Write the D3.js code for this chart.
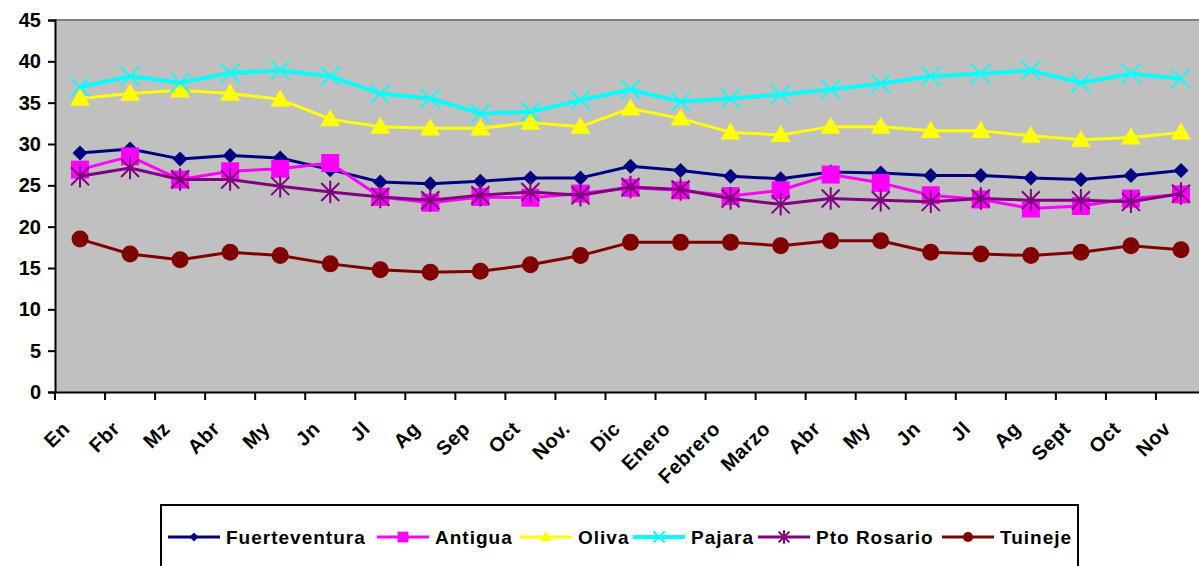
<!DOCTYPE html>
<html><head><meta charset="utf-8">
<script src="https://cdn.jsdelivr.net/npm/d3@7"></script>
<style>
body{margin:0;background:#fff;overflow:hidden}
text{font-family:"Liberation Sans",Arial,sans-serif;font-weight:bold;fill:#000}
</style></head><body>
<svg id="c" width="1199" height="566"></svg>
<script>
const categories = ["En","Fbr","Mz","Abr","My","Jn","Jl","Ag","Sep","Oct","Nov.","Dic","Enero","Febrero","Marzo","Abr","My","Jn","Jl","Ag","Sept","Oct","Nov"];
const fuerteventura = [28.9,29.4,28.2,28.6,28.3,26.9,25.4,25.2,25.5,25.9,25.9,27.3,26.8,26.1,25.8,26.6,26.5,26.2,26.2,25.9,25.7,26.2,26.8];
const antigua = [26.9,28.5,25.7,26.7,27.0,27.7,23.6,22.9,23.6,23.5,24.0,24.7,24.4,23.7,24.4,26.3,25.3,23.8,23.3,22.2,22.5,23.4,23.9];
const oliva = [35.5,36.1,36.5,36.1,35.4,33.0,32.1,31.9,31.9,32.6,32.1,34.3,33.1,31.4,31.1,32.1,32.1,31.6,31.6,31.0,30.5,30.8,31.4];
const pajara = [36.9,38.2,37.4,38.6,38.9,38.2,36.1,35.5,33.7,33.9,35.3,36.6,35.1,35.5,36.0,36.6,37.3,38.2,38.5,38.9,37.4,38.5,37.9];
const ptoRosario = [26.1,27.1,25.7,25.7,24.9,24.2,23.6,23.2,23.8,24.2,23.8,24.8,24.5,23.4,22.7,23.4,23.2,23.0,23.4,23.2,23.2,23.0,24.0];
const tuineje = [18.5,16.7,16.0,16.9,16.5,15.5,14.8,14.5,14.6,15.4,16.5,18.1,18.1,18.1,17.7,18.3,18.3,16.9,16.7,16.5,16.9,17.7,17.2];
const seriesNames = ["Fuerteventura","Antigua","Oliva","Pajara","Pto Rosario","Tuineje"];
const yTicks = [0,5,10,15,20,25,30,35,40,45];

const series = [
  {name:seriesNames[0], values:fuerteventura, color:"#000080", marker:"diamond", w:3},
  {name:seriesNames[1], values:antigua, color:"#FF00FF", marker:"square", w:3},
  {name:seriesNames[2], values:oliva, color:"#FFFF00", marker:"triangle", w:3},
  {name:seriesNames[3], values:pajara, color:"#00FFFF", marker:"x", w:4},
  {name:seriesNames[4], values:ptoRosario, color:"#800080", marker:"star", w:3},
  {name:seriesNames[5], values:tuineje, color:"#800000", marker:"circle", w:3}
];

const svg = d3.select("#c");
const L = 55, R = 1206, T = 20, B = 392;
const x = d3.scaleBand().domain(d3.range(categories.length)).range([L, R]);
const y = d3.scaleLinear().domain([0,45]).range([B, T]);

svg.append("rect").attr("x",L).attr("y",T).attr("width",R-L).attr("height",B-T).attr("fill","#C0C0C0");
svg.append("line").attr("x1",L).attr("x2",R).attr("y1",T).attr("y2",T).attr("stroke","#808080").attr("stroke-width",2);

// Y axis
const ya = svg.append("g").attr("transform",`translate(${L},0)`)
  .call(d3.axisLeft(y).tickValues(yTicks).tickSize(7).tickPadding(7));
ya.select(".domain").attr("stroke","#000").attr("stroke-width",2);
ya.selectAll(".tick line").attr("stroke","#000").attr("stroke-width",2);
ya.selectAll("text").style("font-size","20px").style("font-family","Liberation Sans, Arial, sans-serif").style("font-weight","bold").attr("fill","#000");

// X axis
const xa = svg.append("g").attr("transform",`translate(0,${B})`)
  .call(d3.axisBottom(x).tickSize(0).tickFormat(""));
xa.select(".domain").attr("stroke","#000").attr("stroke-width",2);
const tickPos = d3.range(categories.length+1).map(i => L + i*x.step());
xa.selectAll(".xt").data(tickPos).join("line").attr("class","xt")
  .attr("x1",d=>d).attr("x2",d=>d).attr("y1",0).attr("y2",8).attr("stroke","#000").attr("stroke-width",2);
svg.append("g").selectAll("text").data(categories).join("text")
  .attr("transform",(d,i)=>`translate(${x(i)+x.bandwidth()/2-14},${B+33}) rotate(-45)`)
  .attr("text-anchor","end").attr("dy","0.35em")
  .style("font-size","20px").style("letter-spacing","0.5px").text(d=>d);

function markerPath(type, s){
  switch(type){
    case "diamond": return `M0,${-s}L${s},0L0,${s}L${-s},0Z`;
    case "square": return `M${-s},${-s}H${s}V${s}H${-s}Z`;
    case "triangle": return `M0,${-s*1.05}L${s*1.05},${s*0.75}L${-s*1.05},${s*0.75}Z`;
    case "x": return `M${-s},${-s}L${s},${s}M${-s},${s}L${s},${-s}`;
    case "star": return `M${-s},${-s}L${s},${s}M${-s},${s}L${s},${-s}M0,${-s*1.25}L0,${s*1.25}`;
  }
}
function drawMarker(g, type, color, cx, cy, scale){
  const sc = scale||1;
  if(type==="circle"){
    g.append("circle").attr("cx",cx).attr("cy",cy).attr("r",8.5*sc).attr("fill",color);
  } else if(type==="x"||type==="star"){
    g.append("path").attr("d",markerPath(type,(type==="x"?9.5:9)*sc)).attr("transform",`translate(${cx},${cy})`)
      .attr("stroke",color).attr("stroke-width",type==="x"?1.8:2).attr("fill","none");
  } else {
    const s = type==="diamond"?7.5:(type==="square"?9:9.5);
    g.append("path").attr("d",markerPath(type,s*sc)).attr("transform",`translate(${cx},${cy})`).attr("fill",color);
  }
}

const line = d3.line().x((d,i)=>x(i)+x.bandwidth()/2).y(d=>y(d));
series.forEach(s=>{
  const g = svg.append("g");
  g.append("path").attr("d",line(s.values)).attr("fill","none").attr("stroke",s.color).attr("stroke-width",s.w).attr("stroke-linejoin","round");
  s.values.forEach((v,i)=>drawMarker(g, s.marker, s.color, x(i)+x.bandwidth()/2, y(v)));
});

// Legend
const lg = svg.append("g");
lg.append("rect").attr("x",161).attr("y",505).attr("width",917).attr("height",80).attr("fill","#fff").attr("stroke","#000").attr("stroke-width",2);
const legendX = [168,377,520,633,758,942];
series.forEach((s,i)=>{
  const lx = legendX[i], ly = 537;
  lg.append("line").attr("x1",lx).attr("x2",lx+52).attr("y1",ly).attr("y2",ly).attr("stroke",s.color).attr("stroke-width",s.w);
  drawMarker(lg, s.marker, s.color, lx+26, ly, 0.6);
  lg.append("text").attr("x",lx+58).attr("y",ly).attr("dy","0.36em").style("font-size","19px").style("letter-spacing","1px").text(s.name);
});
</script>
</body></html>
